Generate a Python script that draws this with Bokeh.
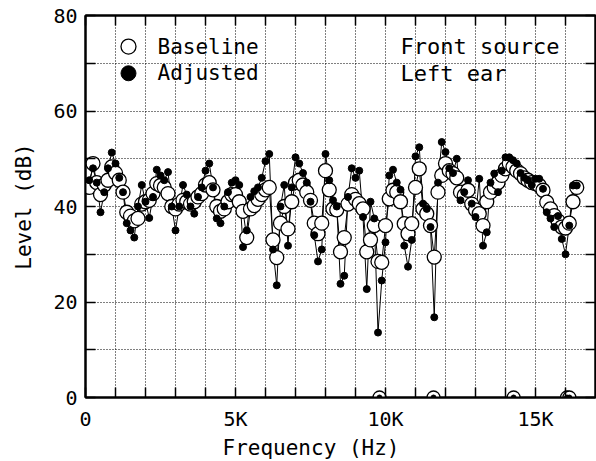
from bokeh.plotting import figure
from bokeh.models import FixedTicker, LinearAxis, Range1d, Title, ColumnDataSource
from bokeh.core.properties import value
from bokeh.embed import file_html
from bokeh.resources import INLINE

# ---------------- data ----------------
freq = [
    125, 250, 375, 500, 625, 750, 875, 1000,
    1125, 1250, 1375, 1500, 1625, 1750, 1875, 2000,
    2125, 2250, 2375, 2500, 2625, 2750, 2875, 3000,
    3125, 3250, 3375, 3500, 3625, 3750, 3875, 4000,
    4125, 4250, 4375, 4500, 4625, 4750, 4875, 5000,
    5125, 5250, 5375, 5500, 5625, 5750, 5875, 6000,
    6125, 6250, 6375, 6500, 6625, 6750, 6875, 7000,
    7125, 7250, 7375, 7500, 7625, 7750, 7875, 8000,
    8125, 8250, 8375, 8500, 8625, 8750, 8875, 9000,
    9125, 9250, 9375, 9500, 9625, 9750, 9875, 10000,
    10125, 10250, 10375, 10500, 10625, 10750, 10875, 11000,
    11125, 11250, 11375, 11500, 11625, 11750, 11875, 12000,
    12125, 12250, 12375, 12500, 12625, 12750, 12875, 13000,
    13125, 13250, 13375, 13500, 13625, 13750, 13875, 14000,
    14125, 14250, 14375, 14500, 14625, 14750, 14875, 15000,
    15125, 15250, 15375, 15500, 15625, 15750, 15875, 16000,
    16125, 16250, 16375,
]
baseline = [
    44, 49, 45, 42.5, 44.5, 45.5, 48.3, 47,
    45.5, 43, 38.8, 38, 37, 37.5, 40.5, 41,
    41.3, 42.7, 44.8, 44.4, 44, 42.7, 40, 39.5,
    40.5, 41.3, 41, 40.5, 41, 42, 42.7, 44.5,
    45, 43.5, 40, 39, 39.5, 41, 42.5, 42.5,
    41, 39, 33.5, 39.5, 40.2, 41.5, 42.5, 43.5,
    44, 33, 29.3, 36.5, 40, 35.3, 41, 45,
    45.5, 44.5, 43, 41.3, 36.5, 34.3, 36.5, 47.5,
    43.5, 39.5, 39.3, 30.5, 33.5, 40.5, 42.5, 41.5,
    40.6, 39.5, 30.5, 33, 36, 28.5, 28.3, 36,
    41.6, 43.4, 43, 41, 36.4, 34.3, 36.4, 44,
    47.9, 39.5, 38.5, 36, 29.4, 43, 46.5, 49,
    47.5, 46.9, 46, 43, 42.3, 43.4, 40.5, 39.3,
    38.5, 36, 41, 43, 44, 45, 46.5, 47.9,
    49, 48.3, 47.5, 46.9, 46, 45.5, 45, 44.8,
    44.4, 43.4, 40.9, 39.5, 38.1, 37, 35.7, 35.5,
    36.5, 41, 44,
]
adjusted = [
    45.5, 48, 45, 38.8, 43, 48, 51.3, 49,
    46, 43, 36.5, 35, 33.5, 40, 44.5, 41,
    37.6, 42, 47.7, 46.5, 45.5, 47.2, 40, 35,
    40, 44.5, 42.5, 40, 38.5, 42, 44, 47.5,
    49, 44, 37.5, 36.5, 40, 43, 45, 45.5,
    44.5, 31.5, 35, 42, 43.2, 44, 46, 49.5,
    51, 31, 23.5, 40, 44.5, 31.8, 44, 50.3,
    49, 47, 45, 41, 34, 28.5, 31, 51,
    45.5, 41.3, 40, 23.8, 25.5, 42, 48, 46,
    47.5, 37.8, 22.7, 41, 37.5, 13.6, 24.5, 32.5,
    46.5, 47.7, 45, 43.5, 31.8, 27.4, 33, 50.5,
    52.4, 40.6, 39.5, 35.7, 16.8, 45, 53.5, 51.4,
    48, 47, 50, 41.3, 43, 45.5, 40.6, 37.8,
    45.8, 31.8, 34.6, 45, 46.9, 43, 47.5, 50.3,
    50.3, 49.7, 49, 47, 46, 45.5, 44.5, 45.8,
    45.8, 43.7, 38.8, 37.5, 35.7, 38, 33.2, 30,
    36, 44.4, 44.4,
]
# points sitting on the frequency axis (0 dB)
dropout_freq = [9800, 11600, 14270, 16050, 16130]
dropout_level = [0, 0, 0, 0, 0]

x_major_ticks = [0, 5000, 10000, 15000]
x_minor_ticks = [1000, 2000, 3000, 4000, 6000, 7000, 8000, 9000,
                 11000, 12000, 13000, 14000, 16000]
x_tick_labels = {0: "0", 5000: "5K", 10000: "10K", 15000: "15K"}
y_major_ticks = [0, 20, 40, 60, 80]
y_minor_ticks = [10, 30, 50, 70]

legend_labels = ["Baseline", "Adjusted"]
note_lines = ["Front source", "Left ear"]
x_title = "Frequency (Hz)"
y_title = "Level (dB)"

# ---------------- figure ----------------
FONT = "DejaVu Sans Mono"

p = figure(width=596, height=461, output_backend="svg", toolbar_location=None,
           x_range=Range1d(0, 17000), y_range=Range1d(0, 80),
           min_border_left=85, min_border_right=1, min_border_top=15,
           min_border_bottom=64)
p.background_fill_color = "white"
p.border_fill_color = "white"
p.outline_line_color = "black"
p.outline_line_width = 2

xticker = FixedTicker(ticks=x_major_ticks, minor_ticks=x_minor_ticks)
yticker = FixedTicker(ticks=y_major_ticks, minor_ticks=y_minor_ticks)


def style_axis(ax, ticker):
    ax.ticker = ticker
    ax.axis_line_color = "black"
    ax.axis_line_width = 2
    ax.major_tick_in = 10
    ax.major_tick_out = 0
    ax.minor_tick_in = 10
    ax.minor_tick_out = 0
    ax.major_tick_line_color = "black"
    ax.minor_tick_line_color = "black"
    ax.major_tick_line_width = 1.5
    ax.minor_tick_line_width = 1.5
    ax.major_label_text_font = FONT
    ax.major_label_text_font_size = "20px"
    ax.major_label_text_color = "black"


xa = p.xaxis[0]
style_axis(xa, xticker)
xa.major_label_overrides = x_tick_labels
xa.major_label_standoff = 9

ya = p.yaxis[0]
style_axis(ya, yticker)
ya.major_label_standoff = 8
ya.axis_label = y_title
ya.axis_label_text_font = FONT
ya.axis_label_text_font_size = "21px"
ya.axis_label_text_font_style = "normal"
ya.axis_label_text_color = "black"
ya.axis_label_standoff = 14

# tick-only axes on the top and right edges (labels not drawn)
top = LinearAxis()
style_axis(top, xticker)
top.major_label_text_font_size = "1px"
top.major_label_text_color = None
top.major_label_standoff = 0
p.add_layout(top, "above")

right = LinearAxis()
style_axis(right, yticker)
right.major_label_text_font_size = "1px"
right.major_label_text_color = None
right.major_label_standoff = 0
p.add_layout(right, "right")

p.add_layout(Title(text=x_title, align="left", offset=137, standoff=0,
                   text_font=FONT, text_font_size="21px",
                   text_font_style="normal", text_color="black"), "below")

for g in (p.xgrid[0], p.ygrid[0]):
    g.grid_line_color = "black"
    g.grid_line_dash = "1 2"
    g.grid_line_width = 1
    g.minor_grid_line_color = "black"
    g.minor_grid_line_dash = "1 2"
    g.minor_grid_line_width = 1
p.xgrid[0].ticker = xticker
p.ygrid[0].ticker = yticker

# ---------------- data marks ----------------
src = ColumnDataSource(dict(freq=freq, baseline=baseline, adjusted=adjusted))
p.line("freq", "baseline", source=src, line_color="black", line_width=1)
p.line("freq", "adjusted", source=src, line_color="black", line_width=1)
p.scatter("freq", "baseline", source=src, size=14, marker="circle",
          fill_color="white", line_color="black", line_width=1.3)
p.scatter("freq", "adjusted", source=src, size=7, marker="circle",
          fill_color="black", line_color="black", line_width=1)

dsrc = ColumnDataSource(dict(freq=dropout_freq, level=dropout_level))
p.scatter("freq", "level", source=dsrc, size=13, marker="circle",
          fill_color="white", line_color="black", line_width=1.3)
p.scatter("freq", "level", source=dsrc, size=5, marker="circle",
          fill_color="black", line_color="black")

# ---------------- legend & note (hand placed) ----------------
LEG_X = 1433
LEG_TXT_X = 2400
LEG_Y = [73.5, 67.9]
NOTE_X = 10500

p.scatter([LEG_X], [LEG_Y[0]], size=15, marker="circle", fill_color="white",
          line_color="black", line_width=1.3)
p.scatter([LEG_X], [LEG_Y[1]], size=15, marker="circle", fill_color="black",
          line_color="black")
p.text(x=[LEG_TXT_X, LEG_TXT_X], y=LEG_Y, text=legend_labels,
       text_font=value(FONT), text_font_size="21px", text_baseline="middle",
       text_color="black")
p.text(x=[NOTE_X, NOTE_X], y=LEG_Y, text=note_lines,
       text_font=value(FONT), text_font_size="22px", text_baseline="middle",
       text_color="black")

open("out.html", "w").write(file_html(p, INLINE))
